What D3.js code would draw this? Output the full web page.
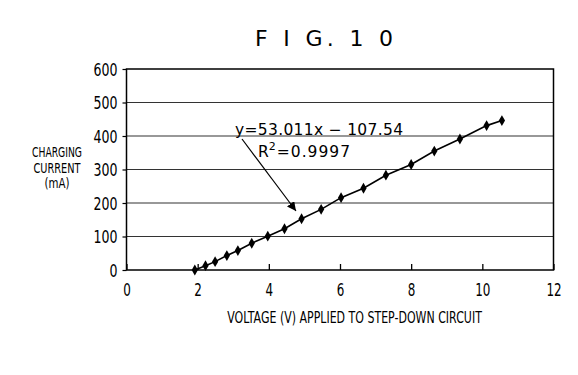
<!DOCTYPE html>
<html><head><meta charset="utf-8">
<script src="https://cdn.jsdelivr.net/npm/d3@7"></script>
<style>
body{margin:0;background:#fff;}
text{font-family:"DejaVu Sans",sans-serif;fill:#000;}
</style></head><body>
<svg id="c" width="578" height="375"></svg>
<script>
const voltage = [1.92, 2.22, 2.49, 2.82, 3.13, 3.52, 3.97, 4.44, 4.92, 5.47, 6.03, 6.66, 7.29, 8.0, 8.65, 9.37, 10.12, 10.55];
const current = [0, 13, 25, 43, 58, 80, 101, 123, 153, 181, 216, 244, 283, 315, 355, 391, 431, 446];
const xTicks = [0, 2, 4, 6, 8, 10, 12];
const yTicks = [0, 100, 200, 300, 400, 500, 600];
const title = "F I G. 1 0";
const yLabel = ["CHARGING", "CURRENT", "(mA)"];
const xLabel = "VOLTAGE (V) APPLIED TO STEP-DOWN CIRCUIT";
const eqText = "y=53.011x \u2212 107.54";
const r2Value = "0.9997";

const svg = d3.select("#c");
const m = {l:126.5, r:553.5, t:69, b:270};
const x = d3.scaleLinear().domain([0,12]).range([m.l, m.r]);
const y = d3.scaleLinear().domain([0,600]).range([m.b, m.t]);

// gridlines
svg.append("g").selectAll("line").data(yTicks.filter(d=>d>0 && d<600)).join("line")
  .attr("x1", m.l).attr("x2", m.r).attr("y1", d=>y(d)).attr("y2", d=>y(d))
  .attr("stroke", "#333").attr("stroke-width", 1.2);

// frame
svg.append("rect").attr("x", m.l).attr("y", m.t).attr("width", m.r-m.l).attr("height", m.b-m.t)
  .attr("fill","none").attr("stroke","#000").attr("stroke-width",1.5);

// x axis
const xa = svg.append("g").attr("transform", `translate(0,${m.b})`)
  .call(d3.axisBottom(x).tickValues(xTicks).tickSize(-6).tickPadding(13).tickFormat(d3.format("d")));
xa.select(".domain").remove();
xa.selectAll("line").attr("stroke","#000").attr("stroke-width",1.3);
xa.selectAll("text").attr("font-size", 18).attr("dy", "0.71em")
  .attr("textLength", function(){ return this.textContent.length * 7.6; })
  .attr("lengthAdjust","spacingAndGlyphs");

// y axis
const ya = svg.append("g").attr("transform", `translate(${m.l},0)`)
  .call(d3.axisLeft(y).tickValues(yTicks).tickSize(4).tickPadding(5).tickFormat(d3.format("d")));
ya.select(".domain").remove();
ya.selectAll("line").attr("stroke","#000").attr("stroke-width",1.2);
ya.selectAll("text").attr("font-size", 18).attr("dy", "0.36em")
  .attr("textLength", function(){ return this.textContent.length * 8; })
  .attr("lengthAdjust","spacingAndGlyphs");

// title
svg.append("text").attr("x", 255).attr("y", 46)
  .attr("font-family","'Liberation Sans',Arial,sans-serif").attr("font-size", 22)
  .attr("textLength", 138).attr("lengthAdjust","spacing").text(title);

// y label (horizontally condensed via scale)
const yLW = [50, 47, 25];
svg.append("g").selectAll("text").data(yLabel).join("text")
  .attr("text-anchor","middle").attr("font-size", 13.5).text(d=>d)
  .attr("transform", function(d,i){
    const w = this.getComputedTextLength();
    return `translate(57,${157 + i*15.5}) scale(${yLW[i]/w},1)`;
  });

// x label
svg.append("text").attr("text-anchor","middle").attr("font-size", 16).text(xLabel)
  .attr("transform", function(){
    const w = this.getComputedTextLength();
    return `translate(354.5,323) scale(${255/w},1)`;
  });

// data line
const pts = voltage.map((v,i)=>[v, current[i]]);
svg.append("path").datum(pts)
  .attr("d", d3.line().x(d=>x(d[0])).y(d=>y(d[1])))
  .attr("fill","none").attr("stroke","#000").attr("stroke-width",1.6);

// diamond markers
svg.append("g").selectAll("path").data(pts).join("path")
  .attr("transform", d=>`translate(${x(d[0])},${y(d[1])})`)
  .attr("d", d3.symbol(d3.symbolDiamond, 34)())
  .attr("fill","#000");

// equation annotation
svg.append("text").attr("x", 235).attr("y", 135).attr("font-size", 15.5)
  .attr("textLength", 168).attr("lengthAdjust","spacing").text(eqText);
const r2 = svg.append("text").attr("x", 258).attr("y", 157).attr("font-size", 15.5);
r2.append("tspan").text("R");
r2.append("tspan").attr("dy", -7).attr("font-size", 11).text("2");
r2.append("tspan").attr("dy", 7).attr("dx", 1).attr("letter-spacing", 1).text("=" + r2Value);

// arrow
svg.append("defs").append("marker").attr("id","ah").attr("viewBox","0 0 10 10")
  .attr("refX",10).attr("refY",5).attr("markerWidth",9).attr("markerHeight",9)
  .attr("markerUnits","userSpaceOnUse").attr("orient","auto")
  .append("path").attr("d","M0,0 L10,5 L0,10 Z").attr("fill","#000");
svg.append("line").attr("x1", 242).attr("y1", 139).attr("x2", 296).attr("y2", 211)
  .attr("stroke","#000").attr("stroke-width",1.2).attr("marker-end","url(#ah)");
</script>
</body></html>
